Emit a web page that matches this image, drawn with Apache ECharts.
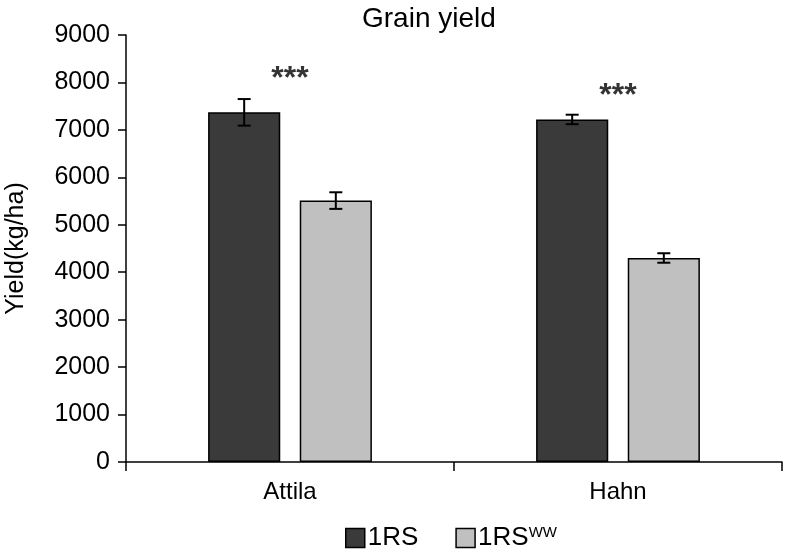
<!DOCTYPE html>
<html>
<head>
<meta charset="utf-8">
<script src="https://cdn.jsdelivr.net/npm/echarts@6/dist/echarts.min.js"></script>
<style>
  html, body { margin: 0; padding: 0; background: #fff; }
  #chart { width: 786px; height: 557px; }
</style>
</head>
<body>
<div id="chart"></div>
<script>
// 品种
var categories = ["Attila", "Hahn"];
// 1RS 产量及误差
var rsValues = [7370, 7220];
var rsErrors = [280, 100];
// 1RSWW 产量及误差
var wwValues = [5510, 4300];
var wwErrors = [175, 100];
// 显著性标记位置
var starValues = [8060, 7720];
var yTicks = [0, 1000, 2000, 3000, 4000, 5000, 6000, 7000, 8000, 9000];

var font = "Liberation Sans, Arial, sans-serif";
var barFrac = 0.22; // 柱宽占类目宽度
var gapFrac = 0.27; // 柱间距占柱宽

function errorBar(sign) {
  return function (params, api) {
    var xi = api.value(0);
    var v = api.value(1);
    var e = api.value(2);
    var band = api.size([1, 0])[0];
    var off = sign * band * (barFrac + barFrac * gapFrac) / 2;
    var top = api.coord([xi, v + e]);
    var bot = api.coord([xi, v - e]);
    var x = top[0] + off;
    var cap = 6.5;
    var style = { stroke: "#000", lineWidth: 2 };
    return {
      type: "group",
      children: [
        { type: "line", shape: { x1: x, y1: top[1], x2: x, y2: bot[1] }, style: style },
        { type: "line", shape: { x1: x - cap, y1: top[1], x2: x + cap, y2: top[1] }, style: style },
        { type: "line", shape: { x1: x - cap, y1: bot[1], x2: x + cap, y2: bot[1] }, style: style },
      ],
    };
  };
}

var myChart = echarts.init(document.getElementById("chart"));
var option = {
  animation: false,
  textStyle: { fontFamily: font, color: "#000" },
  title: {
    text: "Grain yield",
    left: 357,
    top: 0,
    textStyle: { fontFamily: font, fontSize: 28, fontWeight: "normal", color: "#000" },
  },
  legend: {
    data: ["1RS", "1RSWW"],
    bottom: 1,
    left: 340,
    icon: "rect",
    itemWidth: 19,
    itemHeight: 19,
    itemGap: 37,
    itemStyle: { borderColor: "#000", borderWidth: 1.5 },
    formatter: function (name) {
      return name === "1RSWW" ? "{a|1RS}{b|WW}" : "{a|1RS}";
    },
    textStyle: {
      padding: [0, 0, 0, -2],
      rich: {
        a: { fontFamily: font, fontSize: 26, color: "#000" },
        b: { fontFamily: font, fontSize: 15, color: "#000", verticalAlign: "top", padding: [0, 0, 10, 0] },
      },
    },
  },
  grid: { left: 126, right: 4, top: 35, bottom: 95, outerBoundsMode: "none" },
  xAxis: {
    type: "category",
    data: categories,
    axisLine: { lineStyle: { color: "#000", width: 1.5 } },
    axisTick: { show: true, length: 9, lineStyle: { color: "#000", width: 1.5 } },
    axisLabel: { fontFamily: font, fontSize: 24, color: "#000", margin: 18 },
  },
  yAxis: {
    type: "value",
    min: yTicks[0],
    max: yTicks[yTicks.length - 1],
    interval: 1000,
    name: "Yield(kg/ha)",
    nameLocation: "middle",
    nameGap: 97,
    nameTextStyle: { fontFamily: font, fontSize: 25, color: "#000" },
    splitLine: { show: false },
    axisLine: { show: true, lineStyle: { color: "#000", width: 1.5 } },
    axisTick: { show: true, length: 8, lineStyle: { color: "#000", width: 1.5 } },
    axisLabel: {
      fontFamily: font,
      fontSize: 25,
      color: "#000",
      margin: 16,
      formatter: function (v) { return String(v); },
    },
  },
  series: [
    {
      name: "1RS",
      type: "bar",
      data: rsValues,
      barWidth: barFrac * 100 + "%",
      barGap: gapFrac * 100 + "%",
      itemStyle: { color: "#3a3a3a", borderColor: "#000", borderWidth: 1.5 },
    },
    {
      name: "1RSWW",
      type: "bar",
      data: wwValues,
      barWidth: barFrac * 100 + "%",
      barGap: gapFrac * 100 + "%",
      itemStyle: { color: "#c0c0c0", borderColor: "#000", borderWidth: 1.5 },
    },
    {
      type: "custom",
      renderItem: errorBar(-1),
      data: rsValues.map(function (v, i) { return [i, v, rsErrors[i]]; }),
      encode: { x: 0, y: 1 },
      z: 5,
    },
    {
      type: "custom",
      renderItem: errorBar(1),
      data: wwValues.map(function (v, i) { return [i, v, wwErrors[i]]; }),
      encode: { x: 0, y: 1 },
      z: 5,
    },
    {
      type: "scatter",
      symbolSize: 0,
      data: starValues.map(function (v, i) { return [i, v]; }),
      label: {
        show: true,
        position: "inside",
        formatter: "***",
        fontFamily: font,
        fontSize: 32,
        fontWeight: "bold",
        color: "#000",
      },
      z: 6,
    },
  ],
};
myChart.setOption(option);
</script>
</body>
</html>
